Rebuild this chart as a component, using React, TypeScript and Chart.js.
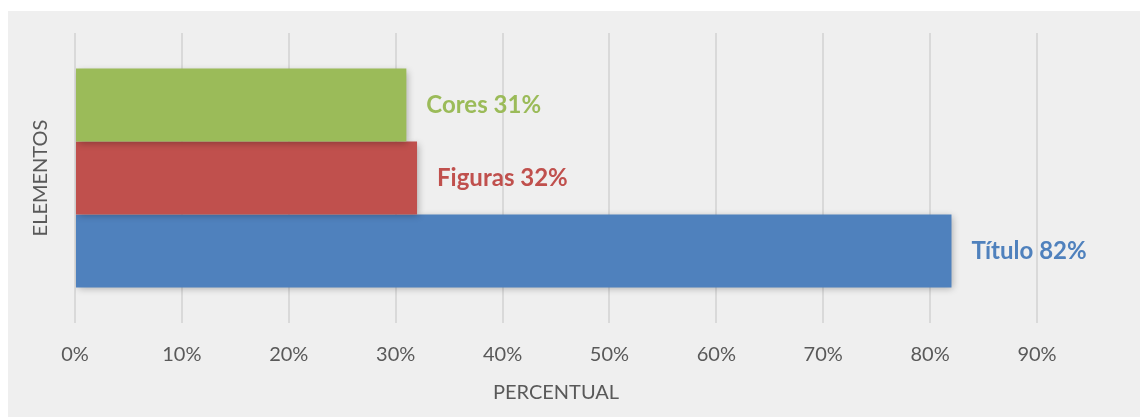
import React, { useEffect, useRef } from "react";
import { Chart, registerables } from "chart.js";

Chart.register(...registerables);

const categories = ["Cores", "Figuras", "Título"];
const values = [31, 32, 82];
const barColors = ["#9BBB59", "#C0504D", "#4F81BD"];
const xTicks = [0, 10, 20, 30, 40, 50, 60, 70, 80, 90];
const xTitle = "PERCENTUAL";
const yTitle = "ELEMENTOS";

const shadowPlugin = {
  id: "barShadow",
  beforeDatasetsDraw(chart: any) {
    const ctx = chart.ctx;
    ctx.save();
    ctx.shadowColor = "rgba(0,0,0,0.28)";
    ctx.shadowBlur = 7;
    ctx.shadowOffsetX = 2;
    ctx.shadowOffsetY = 2;
  },
  afterDatasetsDraw(chart: any) {
    chart.ctx.restore();
  },
};

const labelPlugin = {
  id: "barLabels",
  afterDatasetsDraw(chart: any) {
    const ctx = chart.ctx;
    ctx.save();
    ctx.font = "bold 24px Lato";
    ctx.textBaseline = "middle";
    ctx.textAlign = "left";
    chart.data.datasets.forEach((ds: any, i: number) => {
      const meta = chart.getDatasetMeta(i);
      meta.data.forEach((bar: any, j: number) => {
        ctx.fillStyle = barColors[i];
        ctx.fillText(`${categories[i]} ${ds.data[j]}%`, bar.x + 20, bar.y);
      });
    });
    ctx.restore();
  },
};

export default function App() {
  const ref = useRef<HTMLCanvasElement>(null);
  useEffect(() => {
    if (!ref.current) return;
    const chart = new Chart(ref.current, {
      type: "bar",
      data: {
        labels: [""],
        datasets: categories.map((c, i) => ({
          label: c,
          data: [values[i]],
          backgroundColor: barColors[i],
          borderWidth: 0,
          categoryPercentage: 0.755,
          barPercentage: 1,
        })),
      },
      options: {
        indexAxis: "y",
        animation: false,
        responsive: false,
        maintainAspectRatio: false,
        layout: { padding: { top: 22, right: 103, left: 0, bottom: 0 } },
        plugins: {
          legend: { display: false },
          tooltip: { enabled: false },
        },
        scales: {
          x: {
            min: 0,
            max: 90,
            afterBuildTicks: (scale: any) => {
              scale.ticks = xTicks.map((v) => ({ value: v }));
            },
            afterFit: (scale: any) => {
              scale.height = 94;
            },
            ticks: {
              callback: (v: any) => `${v}%`,
              color: "#595959",
              font: { family: "Lato", size: 20 },
              padding: 20,
            },
            grid: {
              color: "#d9d9d9",
              lineWidth: 2,
              drawTicks: false,
            },
            border: { display: false },
            title: {
              display: true,
              text: xTitle,
              color: "#595959",
              font: { family: "Lato", size: 20 },
              padding: { top: 0, bottom: 12 },
            },
          },
          y: {
            afterFit: (scale: any) => {
              scale.width = 67;
            },
            ticks: { display: false },
            grid: { display: false },
            border: { display: false },
            title: {
              display: true,
              text: yTitle,
              color: "#595959",
              font: { family: "Lato", size: 20 },
              padding: { top: 20.5, bottom: 0 },
            },
          },
        },
      },
      plugins: [shadowPlugin, labelPlugin],
    } as any);
    return () => chart.destroy();
  }, []);

  return (
    <div
      style={{
        position: "fixed",
        left: 8,
        top: 11,
        width: 1132,
        height: 406,
        background: "#efefef",
      }}
    >
      <canvas ref={ref} width={1132} height={406} style={{ display: "block" }} />
    </div>
  );
}
